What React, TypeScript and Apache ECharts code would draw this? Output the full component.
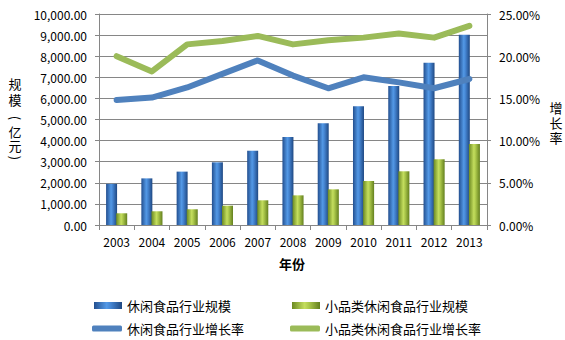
import React, { useEffect, useRef } from "react";
import * as echarts from "echarts";

const years = ["2003", "2004", "2005", "2006", "2007", "2008", "2009", "2010", "2011", "2012", "2013"];
const snackScale = [1950, 2210, 2530, 2970, 3520, 4170, 4820, 5630, 6590, 7690, 9020];
const smallSnackScale = [555, 650, 745, 915, 1170, 1405, 1690, 2085, 2545, 3115, 3840];
const snackGrowth = [14.8, 15.1, 16.3, 17.9, 19.5, 17.7, 16.2, 17.5, 16.9, 16.2, 17.3];
const smallSnackGrowth = [20.0, 18.2, 21.4, 21.8, 22.4, 21.4, 21.9, 22.2, 22.7, 22.2, 23.6];
const seriesNames = ["休闲食品行业规模", "小品类休闲食品行业规模", "休闲食品行业增长率", "小品类休闲食品行业增长率"];

const FONT = "'Noto Sans CJK SC', 'Noto Sans', sans-serif";

const blueBar = new echarts.graphic.LinearGradient(0, 0, 1, 0, [
  { offset: 0, color: "#234f8f" },
  { offset: 0.45, color: "#5399e6" },
  { offset: 0.6, color: "#4585d2" },
  { offset: 1, color: "#1f4882" },
]);
const greenBar = new echarts.graphic.LinearGradient(0, 0, 1, 0, [
  { offset: 0, color: "#6c8a22" },
  { offset: 0.45, color: "#c4de5e" },
  { offset: 0.6, color: "#adc94c" },
  { offset: 1, color: "#637f1e" },
]);

const vchar = (text: string, x: number, y: number, size: number, rotation = 0) => ({
  type: "text",
  x,
  y,
  rotation,
  style: {
    text,
    x: 0,
    y: 0,
    align: "center",
    verticalAlign: "middle",
    fontFamily: FONT,
    fontSize: size,
    fill: "#000",
  },
});

export default function App() {
  const ref = useRef<HTMLDivElement>(null);
  useEffect(() => {
    document.body.style.margin = "0";
    if (!ref.current) return;
    const chart = echarts.init(ref.current, null, { renderer: "svg" });
    const legendBase = {
      orient: "horizontal",
      itemWidth: 28,
      itemHeight: 7,
      itemGap: 0,
      textStyle: { fontFamily: FONT, fontSize: 13, color: "#000" },
    };
    chart.setOption({
      animation: false,
      backgroundColor: "#fff",
      textStyle: { fontFamily: FONT },
      grid: { left: 99, right: 78, top: 14, bottom: 115, containLabel: false },
      legend: [
        { ...legendBase, left: 89, top: 294, data: [{ name: seriesNames[0], icon: "rect" }] },
        { ...legendBase, left: 287, top: 294, data: [{ name: seriesNames[1], icon: "rect" }] },
        { ...legendBase, left: 87, top: 317, itemWidth: 30, itemHeight: 6, data: [{ name: seriesNames[2], icon: "roundRect" }] },
        { ...legendBase, left: 285, top: 317, itemWidth: 30, itemHeight: 6, data: [{ name: seriesNames[3], icon: "roundRect" }] },
      ],
      xAxis: {
        type: "category",
        data: years,
        boundaryGap: true,
        axisLine: { lineStyle: { color: "#868686" } },
        axisTick: { show: true, length: 5, lineStyle: { color: "#868686" } },
        axisLabel: { color: "#000", fontSize: 12, fontFamily: FONT, margin: 10 },
      },
      yAxis: [
        {
          type: "value",
          min: 0,
          max: 10000,
          interval: 1000,
          axisLine: { show: true, lineStyle: { color: "#868686" } },
          axisTick: { show: true, length: 4, lineStyle: { color: "#868686" } },
          splitLine: { lineStyle: { color: "#868686" } },
          axisLabel: {
            color: "#000",
            fontSize: 12,
            fontFamily: FONT,
            margin: 12,
            formatter: (v: number) => v.toLocaleString("en-US", { minimumFractionDigits: 2, maximumFractionDigits: 2 }),
          },
        },
        {
          type: "value",
          min: 0,
          max: 25,
          interval: 5,
          axisLine: { show: true, lineStyle: { color: "#868686" } },
          axisTick: { show: true, length: 4, lineStyle: { color: "#868686" } },
          splitLine: { show: false },
          axisLabel: {
            color: "#000",
            fontSize: 12,
            fontFamily: FONT,
            margin: 12,
            formatter: (v: number) => v.toFixed(2) + "%",
          },
        },
      ],
      series: [
        {
          name: seriesNames[0],
          type: "bar",
          data: snackScale,
          barWidth: 11,
          barGap: "-8%",
          itemStyle: { color: blueBar },
        },
        {
          name: seriesNames[1],
          type: "bar",
          data: smallSnackScale,
          barWidth: 11,
          itemStyle: { color: greenBar },
        },
        {
          name: seriesNames[2],
          type: "line",
          yAxisIndex: 1,
          data: snackGrowth,
          symbol: "none",
          z: 5,
          color: "#4f81bd",
          lineStyle: { width: 6, color: "#4f81bd", cap: "round", join: "round" },
        },
        {
          name: seriesNames[3],
          type: "line",
          yAxisIndex: 1,
          data: smallSnackGrowth,
          symbol: "none",
          z: 5,
          color: "#9bbb59",
          lineStyle: { width: 6, color: "#9bbb59", cap: "round", join: "round" },
        },
      ],
      graphic: [
        vchar("规", 15, 83, 13),
        vchar("模", 15, 99, 13),
        vchar("(", 15, 118, 13, -Math.PI / 2),
        vchar("亿", 15, 131, 13),
        vchar("元", 15, 145, 13),
        vchar(")", 15, 158, 13, -Math.PI / 2),
        vchar("增", 556, 107, 13),
        vchar("长", 556, 122, 13),
        vchar("率", 556, 137, 13),
        {
          type: "text",
          x: 292,
          y: 263,
          style: {
            text: "年份",
            x: 0,
            y: 0,
            align: "center",
            verticalAlign: "middle",
            fontFamily: FONT,
            fontSize: 13,
            fontWeight: "bold",
            fill: "#000",
          },
        },
      ],
    });
    return () => chart.dispose();
  }, []);
  return <div ref={ref} style={{ width: 565, height: 340 }} />;
}
